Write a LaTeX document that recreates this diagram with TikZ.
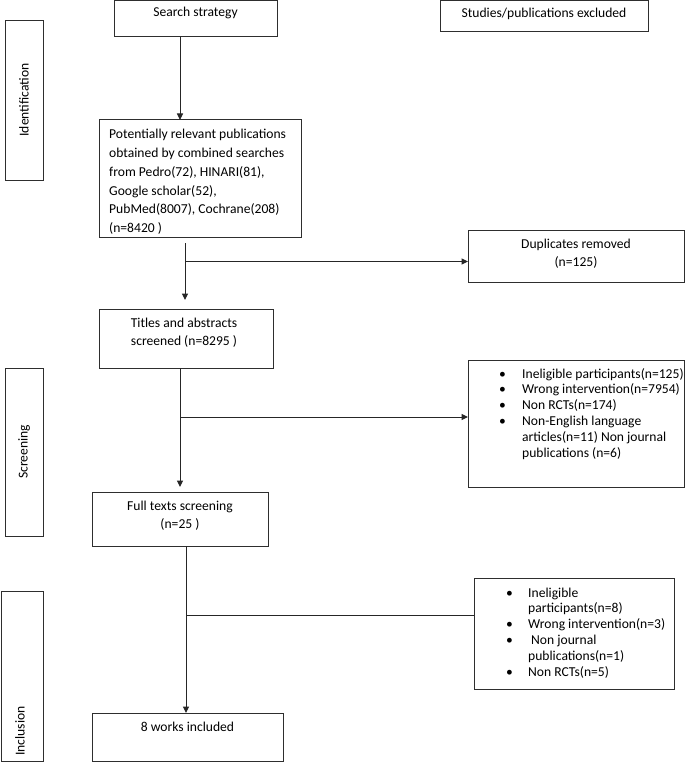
\documentclass[tikz,border=0pt]{standalone}
\usepackage{fontspec}
\setmainfont{Carlito}
\usetikzlibrary{arrows.meta,fit}
\newcommand\bulA{\makebox[23pt][l]{\textbullet}}
\newcommand\bulB{\makebox[22pt][l]{\textbullet}}
\begin{document}
\begin{tikzpicture}[x=1pt,y=-1pt]
\tikzset{
  frame/.style={draw=black!82, line width=1pt, inner sep=0pt, outer sep=0pt},
  lbl/.style={inner sep=0pt, font=\fontsize{13.6}{15.4}\selectfont},
  big/.style={inner sep=0pt, font=\fontsize{13.6}{18.7}\selectfont},
  lst/.style={inner sep=0pt, font=\fontsize{13.6}{15.8}\selectfont},
  conn/.style={draw=black!85, line width=1pt},
  arr/.style={conn, -{Triangle[length=6.5pt,width=6pt]}},
}
\useasboundingbox (0,0) rectangle (685,765);
% boxes
\node[frame, fit={(114,0.5) (277,37)}] (search) {};
\node[frame, fit={(440,0.5) (648,32)}] (studies) {};
\node[frame, fit={(5,21) (43,180)}] (ident) {};
\node[frame, fit={(99,120) (301,237)}] (pot) {};
\node[frame, fit={(468,230) (684,282)}] (dup) {};
\node[frame, fit={(99,309) (273,368)}] (titles) {};
\node[frame, fit={(5,368) (43,536)}] (screen) {};
\node[frame, fit={(468,360) (684,487)}] (scrx) {};
\node[frame, fit={(92,492) (268,546)}] (full) {};
\node[frame, fit={(1,591) (43,761)}] (incl) {};
\node[frame, fit={(474,578) (674,689)}] (incx) {};
\node[frame, fit={(92,713) (283,761)}] (works) {};
% texts
\node[lbl, anchor=base] (searchT) at (195.5,17) {Search strategy};
\node[lbl, anchor=base] (studiesT) at (544,18) {Studies/publications excluded};
\node[lbl, rotate=90] (identT) at (24,100) {Identification};
\node[lbl, rotate=90] (screenT) at (24,452) {Screening};
\node[lbl, rotate=90] (inclT) at (20,731) {Inclusion};
\node[big, anchor=base west] (potT) at (109,139) {\begin{tabular}[t]{@{}l@{}}
Potentially relevant publications\\
obtained by combined searches\\
from Pedro(72), HINARI(81),\\
Google scholar(52),\\
PubMed(8007), Cochrane(208)\\
(n=8420 )\end{tabular}};
\node[big, anchor=base] (dupT) at (576,248) {\begin{tabular}[t]{@{}c@{}}
Duplicates removed\\ (n=125)\end{tabular}};
\node[big, anchor=base] (titlesT) at (184,327) {\begin{tabular}[t]{@{}c@{}}
Titles and abstracts\\ screened (n=8295 )\end{tabular}};
\node[big, anchor=base] (fullT) at (180,510) {\begin{tabular}[t]{@{}c@{}}
Full texts screening\\ (n=25 )\end{tabular}};
\node[lbl, anchor=base] (worksT) at (187.5,731) {8 works included};
\node[lst, anchor=base west] (scrxT) at (499,378) {\begin{tabular}[t]{@{}l@{}}
\bulA Ineligible participants(n=125)\\
\bulA Wrong intervention(n=7954)\\
\bulA Non RCTs(n=174)\\
\bulA Non-English language\\
\hspace{23pt}articles(n=11) Non journal\\
\hspace{23pt}publications (n=6)\end{tabular}};
\node[lst, anchor=base west] (incxT) at (506,597) {\begin{tabular}[t]{@{}l@{}}
\bulB Ineligible\\
\hspace{22pt}participants(n=8)\\
\bulB Wrong intervention(n=3)\\
\bulB \hspace{3pt}Non journal\\
\hspace{22pt}publications(n=1)\\
\bulB Non RCTs(n=5)\end{tabular}};
% junctions
\coordinate (j1) at (185,261.5);
\coordinate (j2) at (180,417);
\coordinate (j3) at (186,615.5);
% connectors
\draw[arr] (180,0 |- search.south) -- (180,0 |- pot.north);
\draw[arr, shorten <=6pt, shorten >=9pt] (185,0 |- pot.south) -- (185,0 |- titles.north);
\draw[arr] (j1) -- (dup.west |- j1);
\draw[arr, shorten >=5pt] (180,0 |- titles.south) -- (180,0 |- full.north);
\draw[arr] (j2) -- (scrx.west |- j2);
\draw[arr] (186,0 |- full.south) -- (186,0 |- works.north);
\draw[conn] (j3) -- (incx.west |- j3);
\end{tikzpicture}
\end{document}
